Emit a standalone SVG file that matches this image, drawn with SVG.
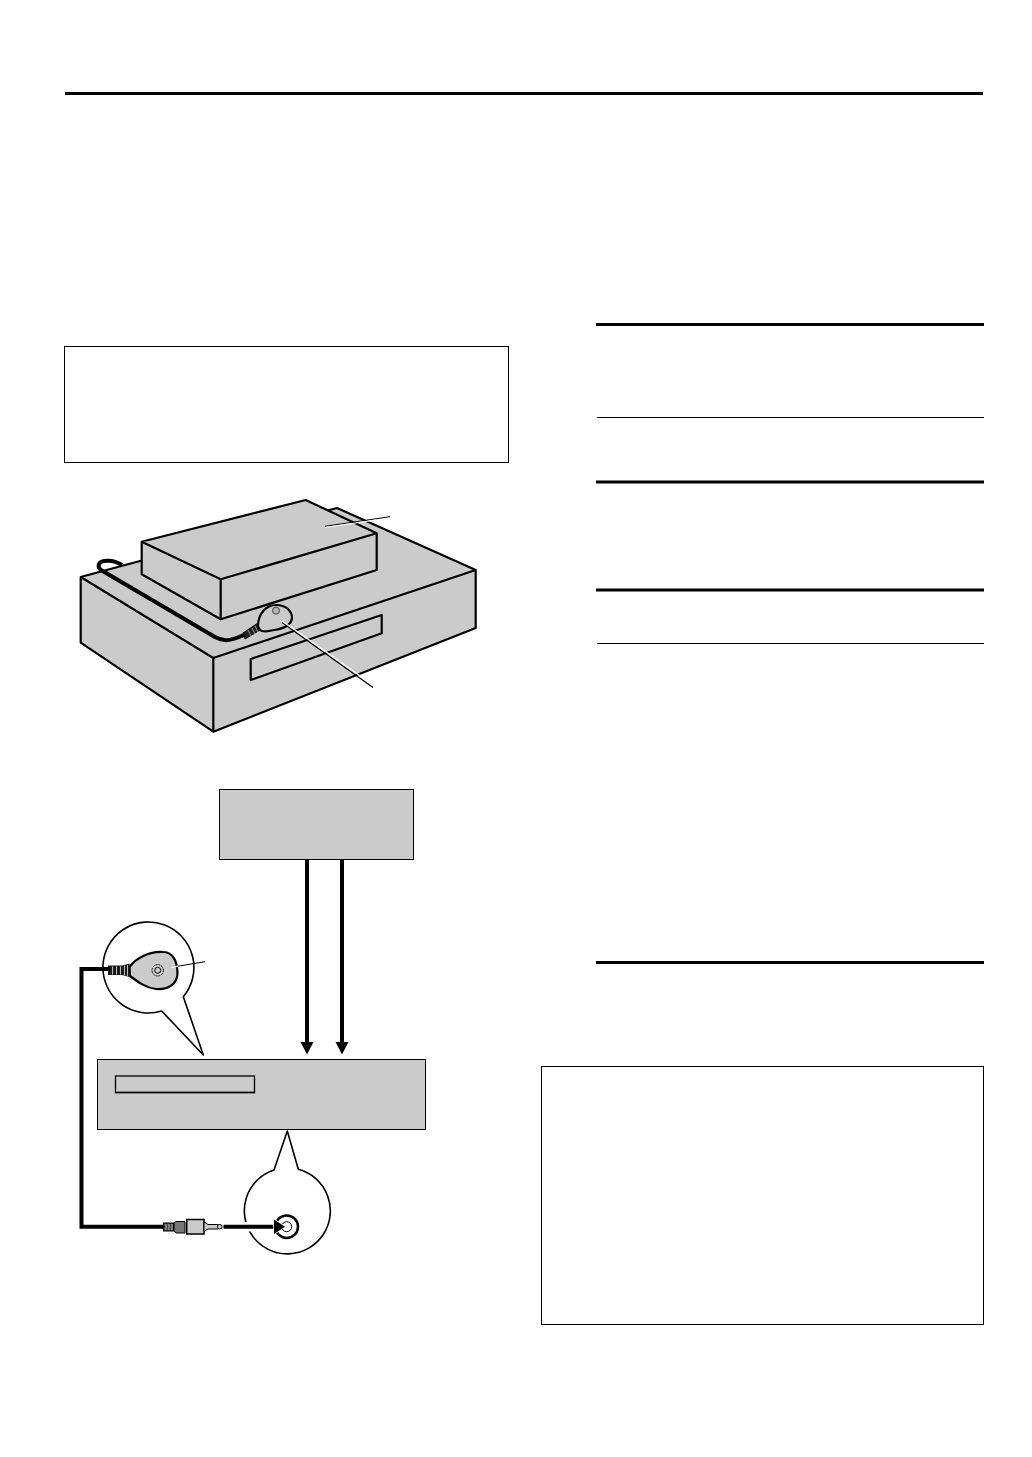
<svg xmlns="http://www.w3.org/2000/svg" width="1032" height="1457" viewBox="0 0 1032 1457">
<style>
.g{fill:#cbcbcb;stroke:#000;stroke-width:2.200;stroke-linejoin:round}
.w{fill:#fff;stroke:#000;stroke-width:1.600;stroke-linejoin:round}
.r{fill:none;stroke:#000}
.c{fill:none;stroke:#000;stroke-linejoin:miter}
</style>
<rect width="1032" height="1457" fill="#fff"/>
<g id="rules">
<path class="r" stroke-width="3" d="M65 93.500H983"/>
<path class="r" stroke-width="3" d="M596 324.500H984"/>
<path class="r" stroke-width="1" d="M597 417.500H984"/>
<path class="r" stroke-width="3" d="M596 482H984"/>
<path class="r" stroke-width="3" d="M596 590H984"/>
<path class="r" stroke-width="1" d="M597 643.500H984"/>
<path class="r" stroke-width="3" d="M596 962.500H984"/>
</g>
<g id="frame-left"><rect x="64.500" y="346.500" width="444" height="116" fill="#fff" stroke="#000"/></g>
<g id="frame-right"><rect x="541.500" y="1066.500" width="442" height="258" fill="#fff" stroke="#000"/></g>
<g id="equipment">
<path class="g" d="M80.700 577L140 561L337 508L475.700 570V628L213.300 731.700L80.700 642.700Z"/>
<path class="g" fill="none" d="M80.700 577L213.300 658L475.700 570M213.300 658V731.700"/>
<path class="g" d="M250.700 659L381.700 615V633.300L250.700 680Z"/>
<path class="g" d="M141.700 541.700L305.700 500L376.700 533.300V570L220.700 619.300L141.700 574.300Z"/>
<path class="g" fill="none" d="M141.700 541.700L220.700 579.300L376.700 533.300M220.700 579.300V619.300"/>
<path class="c" stroke-width="4" d="M122 565C116 561 110 560 104 561C98 562 97 567 101 570L215 637C224 642 230 641 244 635"/>
<path d="M243 633L258 623L260 630L245 639Z" fill="#222" stroke="#000"/>
<path d="M248 630L251 636M252 628L255 634M255 626L258 632" stroke="#999" stroke-width="1"/>
<path class="g" stroke-width="1.600" d="M258 626C258 614 266 605 276 605C286 605 292 611 292 618C291 626 282 629 274 630C268 631 260 634 258 626Z"/>
<circle cx="276" cy="610.700" r="3.500" fill="#b5b5b5" stroke="#444" stroke-width="1"/>
</g>
<g id="leaders">
<path d="M325 526.300L390 516.700" stroke="#000" stroke-width="1" fill="none"/>
<path d="M325 527.500L376 520" stroke="#fff" stroke-width="1.200" fill="none"/>
<path d="M282 622.500L373 687.500" stroke="#000" stroke-width="1.300" fill="none"/>
<path d="M283 621.500L361 676.500" stroke="#fff" stroke-width="1.200" fill="none"/>
</g>
<g id="box-top"><rect x="219.500" y="789.500" width="194" height="70" fill="#cbcbcb" stroke="#000"/></g>
<g id="box-main"><rect x="97.500" y="1059.500" width="328" height="70" fill="#cbcbcb" stroke="#000"/>
<rect x="115.500" y="1076" width="139" height="16.500" fill="#cbcbcb" stroke="#000" stroke-width="1.300"/>
<path d="M115 1092.500H255" stroke="#000" stroke-width="1.600"/></g>
<g id="callout-sensor">
<path class="w" d="M161.700 1011A45.500 45.500 0 1 1 183.300 996.700L203.300 1055Z"/>
<path class="g" stroke-width="1.800" d="M129.500 967C136 958 150 951 163 952C172 952 177 960 177.500 972C178 984 168 990 156 989C146 988 138 982 130 976Z"/>
<circle cx="157.700" cy="970.300" r="5.700" fill="none" stroke="#000" stroke-width="1" stroke-dasharray="2 1"/>
<circle cx="157.700" cy="970.300" r="3" fill="#cbcbcb" stroke="#000" stroke-width="1"/>
<path d="M171.700 967.300L178 966.200" stroke="#fff" stroke-width="1.300" fill="none"/>
<path d="M178 966.200L205 961.700" stroke="#000" stroke-width="1" fill="none"/>
<path d="M108 965.500H122L129.500 963.500V977L122 975H108Z" fill="#1a1a1a"/>
<path d="M112.500 966.500V974.500M116.500 966.500V974.500M120.500 966.500V974.500M124.500 965.500V975.500M127.500 965V976" stroke="#bbb" stroke-width="1"/>
</g>
<g id="callout-jack">
<path class="w" d="M287.300 1131L274 1170A43 43 0 1 0 298.300 1169.300Z"/>
<path fill="#fff" stroke="none" d="M244 1231.500H253V1222H244Z"/>
<circle cx="286.700" cy="1226.700" r="11.300" fill="#fff" stroke="#000" stroke-width="2.500"/>
<circle cx="286.700" cy="1226.700" r="5" fill="#fff" stroke="#000" stroke-width="1"/>
</g>
<g id="connectors">
<path class="c" stroke-width="4" d="M307 860V1043"/>
<path class="c" stroke-width="4" d="M342 860V1043"/>
<path d="M300.500 1042H313.500L307 1054.500Z" fill="#000"/>
<path d="M335.500 1042H348.500L342 1054.500Z" fill="#000"/>
<path class="c" stroke-width="4" d="M110 969H81.500V1226.700H164"/>
<path class="c" stroke-width="4" d="M223.500 1226.700H276"/>
<path d="M274 1219.500L285 1226.700L274 1234Z" fill="#000" stroke="#fff" stroke-width="1.500" paint-order="stroke"/>
</g>
<g id="plug">
<rect x="163.500" y="1223" width="10" height="8" fill="#444" stroke="#000"/>
<path d="M166 1224V1230M169 1224V1230M172 1224V1230" stroke="#bbb" stroke-width="1"/>
<path d="M174 1223L176 1221.500H185V1233H176L174 1231Z" fill="#777" stroke="#000"/>
<rect x="186.700" y="1219.500" width="17.300" height="14.500" fill="#cbcbcb" stroke="#000" stroke-width="1.500"/>
<path d="M204 1222L208 1224.500H218V1229H208L204 1231.500Z" fill="#cbcbcb" stroke="#000"/>
<rect x="217.500" y="1224.500" width="4.500" height="4.500" rx="2" fill="#cbcbcb" stroke="#000"/>
</g>
</svg>
